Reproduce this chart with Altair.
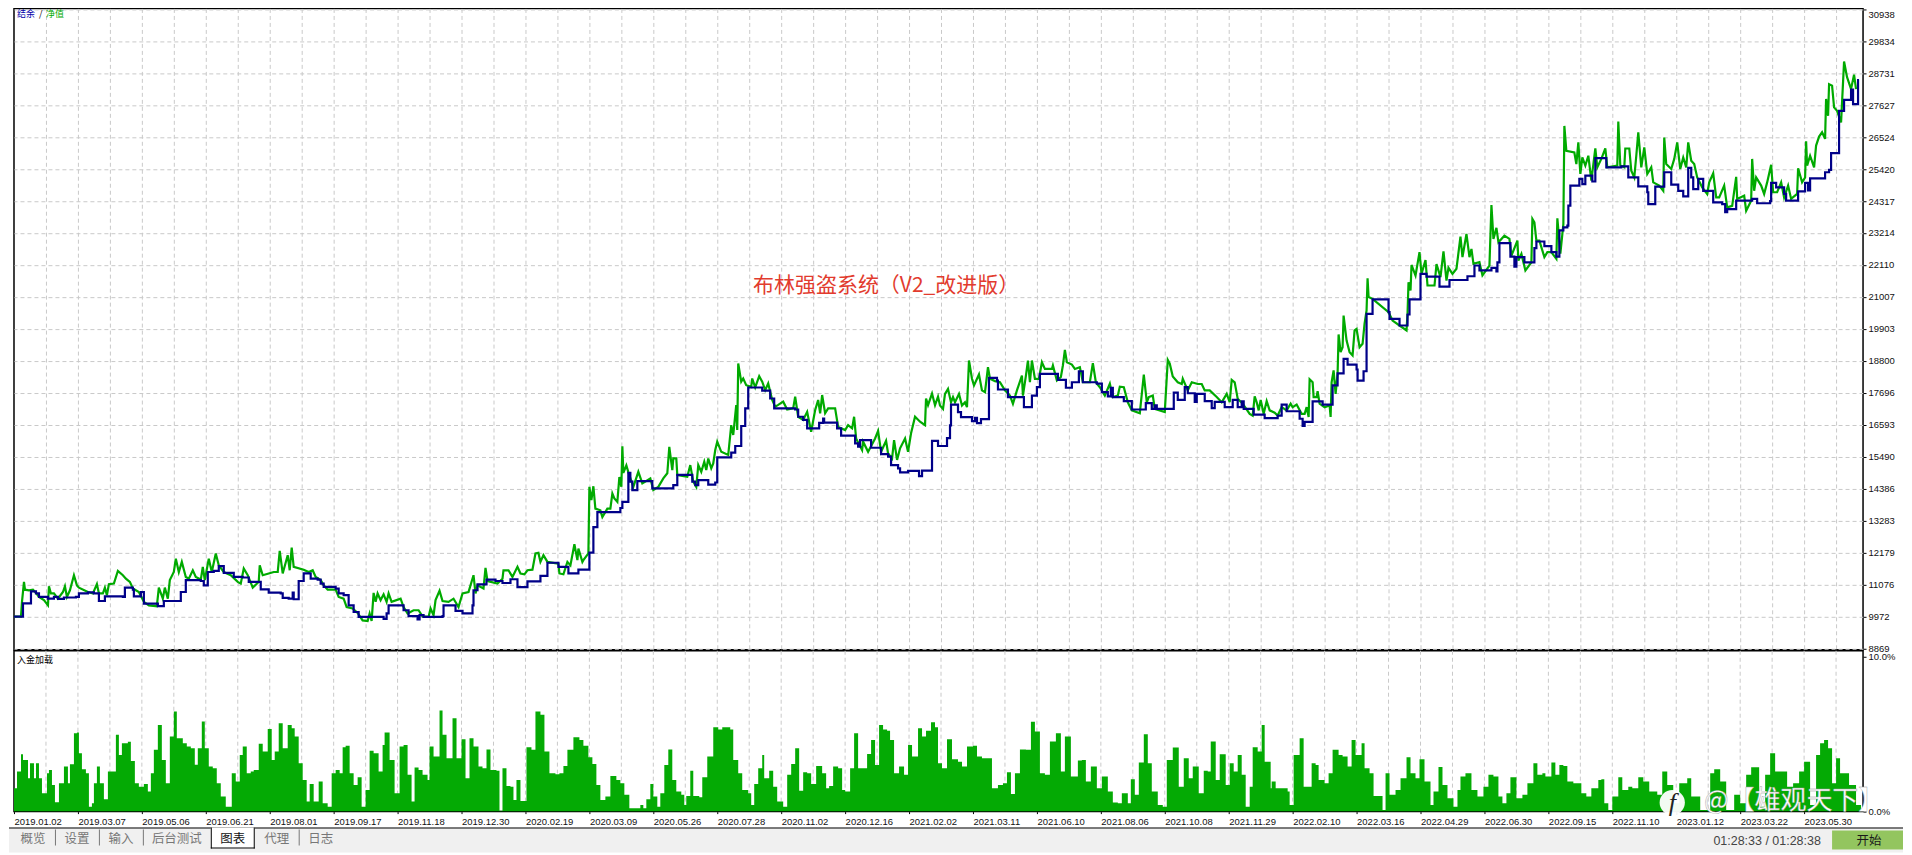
import altair as alt
import pandas as pd

date_labels = ["2019.01.02","2019.03.07","2019.05.06","2019.06.21","2019.08.01","2019.09.17","2019.11.18","2019.12.30",
 "2020.02.19","2020.03.09","2020.05.26","2020.07.28","2020.11.02","2020.12.16","2021.02.02","2021.03.11","2021.06.10",
 "2021.08.06","2021.10.08","2021.11.29","2022.02.10","2022.03.16","2022.04.29","2022.06.30","2022.09.15","2022.11.10",
 "2023.01.12","2023.03.22","2023.05.30"]
balance_ticks = [9972,11076,12179,13283,14386,15490,16593,17696,18800,19903,21007,22110,23214,24317,25420,26524,27627,28731,29834,30938]
bottom_tick = [8869]

balance = [(0,9972),(9,10430),(17,10840),(22,10770),(25,10650),(34,10590),(40,10650),(44,10580),(50,10630),(62,10650),(65,10770),(74,10810),(80,10770),(85,10510),(91,10670),(109,10650),(111,10970),(119,10900),(120,10670),(127,10820),(130,10420),(144,10330),(150,10510),(167,10820),(172,11230),(187,11200),(190,11050),(194,11510),(200,11550),(205,11710),(210,11480),(220,11340),(229,11320),(235,11170),(247,10910),(255,10800),(267,10770),(269,10620),(275,10590),(279,10800),(280,10570),(285,11200),(290,11460),(297,11280),(304,11250),
(307,11110),(310,11000),(322,10940),(325,10770),(330,10710),(335,10360),(340,10130),(345,9960),(370,9890),(373,10080),(375,10360),(390,10190),(395,9990),(404,9870),(406,10020),(410,9960),(429,9990),(430,10360),(442,10170),(449,10080),(459,10360),(460,10880),(464,11080),(473,11250),(482,11200),(489,11130),(497,11260),(504,10990),(514,11190),(527,11380),(534,11830),(545,11690),(555,11460),(565,11590),(576,12180),(580,13060),(584,13580),(607,13720),(609,13930),(615,14930),
(617,14630),(619,14340),(624,14650),(639,14400),(660,14510),(664,14860),(679,14630),(682,14510),(685,14680),(695,14530),(702,14600),(704,15470),(718,15630),(722,15860),(728,16550),(732,17160),(735,17880),(749,17770),(757,17500),(761,17160),(782,17120),(785,16870),(790,16760),(794,16470),(806,16660),(810,16810),(811,16670),(824,16470),(828,16220),(842,15950),(845,15840),(847,16060),(858,15800),(868,15580),(875,15490),(878,15200),(885,15090),(887,14950),(895,15000),(906,14820),(909,15010),(919,16040),(925,15860),
(934,16130),(937,16570),(938,17290),(945,17030),(948,16860),(959,16720),(962,16830),(964,16650),(968,16790),(976,18210),(984,18120),(985,17810),(995,17550),(1011,17200),(1019,17600),(1024,17890),(1027,18350),(1045,18140),(1053,17870),(1059,18060),(1066,18440),(1070,18060),(1084,18010),(1089,17720),(1095,17570),(1098,17870),(1100,17550),(1111,17410),(1119,17120),(1133,17340),(1139,17140),(1142,17260),(1144,17140),(1161,17700),(1165,17450),(1172,17890),(1175,17680),(1182,17380),(1184,17660),(1192,17410),(1199,17170),(1202,17380),(1212,17200),(1220,17450),(1225,17200),(1229,17400),(1231,17140),
(1241,16940),(1252,16820),(1265,16910),(1269,17290),(1274,17060),(1287,16800),(1290,16550),(1292,16690),(1300,17400),(1310,17290),(1320,17950),(1325,18370),(1331,18870),(1335,18670),(1344,18500),(1345,18120),(1351,18440),(1354,20420),(1360,20920),(1376,20480),(1377,20250),(1387,20020),(1395,20400),(1397,20920),(1408,21800),(1414,21710),(1427,21360),(1437,21590),(1455,21720),(1462,22090),(1467,21920),(1479,22010),(1484,21890),(1485,22200),(1487,22860),(1498,22400),(1502,22050),(1504,22380),(1512,22200),(1522,22690),(1524,22920),(1532,22760),(1539,22550),(1544,22400),
(1547,23300),(1551,23410),(1555,23470),(1556,24160),(1558,24850),(1567,25080),(1570,24900),(1573,25190),(1580,24990),(1583,25800),(1594,25480),(1609,25510),(1616,25130),(1626,24820),(1635,24620),(1636,24210),(1643,24810),(1652,25310),(1659,24880),(1666,24670),(1671,24480),(1676,25460),(1679,25130),(1681,24730),(1686,25080),(1691,24670),(1701,24270),(1710,24210),(1713,23930),(1715,24040),(1724,24330),(1740,24390),(1745,24240),(1758,24310),(1759,24940),(1764,24790),(1772,24560),(1774,24330),(1786,24650),(1793,24940),(1796,24680),(1798,25100),(1813,25310),(1817,25390),(1819,25970),(1827,27430),(1832,27810),(1839,28160),(1841,27660),(1846,28490),(1847,28490)]

equity = [(0,9972),(7,9972),(8,10480),(10,11170),(11,10900),(15,10880),(19,10900),(22,10790),(25,10650),(30,10540),(34,10360),(35,11020),(37,10770),(40,10770),(44,10590),(49,10820),(51,11020),(53,10650),(56,10880),(60,11400),(63,11050),(65,10970),(74,10820),(79,10770),(83,11090),(85,10770),(89,10770),(91,10970),(93,10710),(95,11090),(100,11110),(104,11550),(109,11400),(112,11280),(116,11170),(119,10940),(125,10820),(130,10480),(135,10360),(143,10330),(145,10970),(149,10590),(151,10970),(154,10590),(156,11230),(160,11510),(162,11970),(165,11510),(168,11860),(172,11340),(175,11280),(179,11570),(182,11340),(187,11250),(189,11690),(191,11230),(195,11970),(198,11510),(202,12150),(205,11740),(210,11510),(217,11400),(224,11170),(227,11110),(230,11630),(234,11400),(239,10970),(245,11170),(246,11740),(249,11400),(255,11460),(260,11510),(264,11510),(266,12240),(269,11460),(274,12090),(276,11570),(278,12350),(280,11690),(290,11590),(295,11510),(299,11570),(302,11340),
(307,11230),(310,11050),(314,10900),(322,10900),(325,10650),(330,10590),(333,10300),(339,10250),(344,10100),(349,9840),(354,9820),(356,10080),(358,9820),(360,10790),(362,10480),(364,10770),(367,10540),(370,10740),(373,10480),(375,10770),(378,10480),(387,10590),(390,10300),(394,10080),(400,10190),(405,10190),(409,9980),(415,9960),(417,10250),(420,10020),(422,10540),(426,10860),(429,10510),(435,10480),(440,10590),(445,10300),(449,10770),(455,10820),(460,11400),(462,10770),(464,11050),(470,10940),(472,11650),(474,11200),(484,11110),(489,11280),(490,11570),(495,11570),(499,11340),(504,11690),(507,11460),(511,11430),(514,11570),(519,11590),(522,12150),(525,12170),(527,11860),(530,12090),(534,11860),(545,11800),(546,11460),(550,11430),(554,11860),(557,11740),(561,12470),(564,11920),(565,12320),(569,11860),(570,11920),(575,12150),(576,14450),(578,13990),(580,14470),(582,13700),(587,13640),(589,13410),(594,13700),(597,13700),(599,14220),(601,14050),(604,13930),(606,14790),(608,14450),(609,15850),(610,14930),(613,15190),(615,14960),
(620,14450),(625,14970),(629,14570),(637,14740),(640,14340),(645,14450),(650,14740),(654,14920),(656,15830),(659,15030),(660,15430),(663,15430),(664,14860),(674,14800),(677,15200),(680,14630),(683,14450),(685,15200),(688,14970),(691,15320),(693,15030),(695,15430),(698,15090),(700,15260),(702,15720),(704,16010),(708,15660),(715,15550),(718,16580),(720,16240),(723,17270),(724,16410),(725,18710),(728,18080),(730,18190),(733,17960),(738,17900),(739,18190),(742,17880),(746,18270),(749,18080),(752,17790),(755,18020),(759,17450),(762,17220),(765,17280),(770,17390),(774,17120),(780,17160),(782,17560),(785,16870),(790,16760),(794,17040),(798,16350),(802,17100),(805,17450),(807,16990),(809,17620),(812,16990),(815,17160),(822,17160),(825,16520),(832,16410),(835,16580),(839,16470),(841,16870),(843,16120),(849,15720),(850,16010),(855,15660),(862,16120),(865,16380),(868,15660),(873,16040),(875,15600),(879,15430),(881,16060),(884,15380),(887,15780),(892,16120),(895,15660),(898,16300),(902,16870),(907,16700),(912,16580),(913,17500),(915,17270),(919,17670),(922,17270),(925,17560),
(927,17260),(930,17140),(932,17660),(935,17830),(938,17370),(940,17550),(942,17370),(946,17660),(949,17260),(952,17370),(954,17200),(956,18810),(959,18180),(961,17950),(966,18330),(969,17780),(972,17720),(974,18290),(975,18580),(977,18180),(982,18100),(987,18060),(992,17780),(997,17600),(1000,17320),(1004,17780),(1009,18290),(1010,17600),(1013,18290),(1015,18810),(1017,18060),(1019,18810),(1022,18180),(1026,18180),(1029,18750),(1032,18520),(1039,18520),(1040,18640),(1044,18120),(1048,18240),(1050,18640),(1052,19180),(1054,18750),(1059,18670),(1062,18520),(1067,18580),(1070,18060),(1077,18060),(1080,18720),(1083,18060),(1087,17890),(1092,17600),(1097,18010),(1100,17550),(1105,17600),(1107,17910),(1111,17890),(1115,17370),(1119,17090),(1127,16990),(1131,18320),(1134,17370),(1136,17550),(1140,17600),(1142,17140),(1152,17030),(1155,18830),(1157,18700),(1160,18260),(1165,18060),(1169,18000),(1170,18180),(1175,17780),(1179,18060),(1185,18000),(1189,18000),(1192,17780),(1197,17780),(1204,17550),(1209,17370),(1214,17660),(1217,17370),(1219,18140),(1222,18060),(1225,17490),(1230,17320),
(1237,16970),(1240,16910),(1242,17570),(1244,17370),(1246,17090),(1248,17450),(1251,16970),(1254,17410),(1257,17090),(1262,17010),(1265,16910),(1269,17200),(1274,17090),(1278,17320),(1280,17200),(1284,17290),(1289,16970),(1292,16970),(1294,17200),(1296,16860),(1297,18160),(1300,18060),(1301,17550),(1304,17550),(1305,17750),(1307,17320),(1312,17200),(1317,17260),(1318,16860),(1319,18060),(1321,18470),(1323,17660),(1325,18370),(1326,19710),(1328,19100),(1330,19270),(1331,20360),(1334,19500),(1337,19100),(1340,18990),(1342,19850),(1344,19900),(1347,19270),(1350,19390),(1352,20080),(1354,20540),(1355,21650),(1356,21000),(1360,20940),(1376,20480),(1380,20190),(1387,20020),(1394,19850),(1395,20420),(1396,21510),(1398,21230),(1399,22110),(1403,21745),(1407,22550),(1409,21800),(1413,22280),(1415,21400),(1422,21400),(1424,22140),(1428,21690),(1431,22580),(1434,21570),(1436,22010),(1440,21800),(1444,21980),(1448,23090),(1450,22380),(1454,23180),(1457,22380),(1459,22660),(1461,22150),(1467,22210),(1470,21750),(1477,22090),(1479,24180),(1481,23010),(1484,23390),(1486,22890),(1492,23120),(1497,23010),(1499,22430),(1505,22950),(1506,22260),(1509,22490),(1513,21920),(1519,22200),(1520,23700),(1522,23580),(1524,22950),(1527,22950),(1532,22380),(1535,22550),(1539,22550),(1544,22320),(1545,23720),(1548,22500),
(1551,23520),(1552,26910),(1554,26050),(1562,25990),(1564,25590),(1566,26340),(1568,25250),(1570,25820),(1573,25540),(1576,25880),(1579,25020),(1583,26130),(1585,25480),(1589,25770),(1593,26130),(1595,25480),(1605,25540),(1606,27060),(1608,25540),(1612,25480),(1613,26130),(1617,26130),(1619,25360),(1622,25130),(1624,25880),(1626,26690),(1629,25480),(1632,26170),(1635,25250),(1639,25480),(1641,24960),(1647,24850),(1651,24670),(1652,26510),(1654,25590),(1659,25420),(1662,25770),(1665,26340),(1668,25420),(1671,25820),(1674,25480),(1676,26340),(1679,25710),(1682,25590),(1685,25130),(1690,24790),(1695,24560),(1697,24960),(1701,25270),(1704,24440),(1707,24440),(1712,24850),(1715,24100),(1720,24150),(1724,25150),(1725,24390),(1732,24500),(1734,23980),(1739,24330),(1740,25770),(1742,24670),(1744,25130),(1749,24850),(1752,24560),(1755,24960),(1759,25570),(1761,24620),(1765,24620),(1769,24960),(1772,24440),(1776,24850),(1779,24390),(1785,24560),(1786,25450),(1790,24960),(1793,25130),(1794,26380),(1795,25540),(1798,25880),(1802,25480),(1804,26230),(1807,26540),(1810,26690),(1813,26460),(1814,27840),(1816,27260),(1817,28350),(1820,28300),(1822,27550),(1825,27430),(1829,27030),(1832,29130),(1835,28590),(1839,28180),(1842,28680),(1844,28180)]

deposit_load = [(0,1.50),(3,2.58),(7,3.70),(9,3.33),(14,2.15),(16,3.12),(20,2.15),(22,3.12),(25,2.15),(28,1.18),(30,1.18),(33,2.47),(35,2.69),(38,1.72),(41,0.60),(45,1.83),(50,2.90),(54,1.83),(56,3.05),(60,5.05),(63,5.10),(65,3.76),(68,2.73),(72,2.47),(75,0.32),(78,0.54),(80,1.83),(83,2.90),(86,1.83),(90,0.80),(94,2.58),(98,2.58),(102,4.95),(105,3.65),(108,4.41),(114,4.51),(117,3.27),(121,1.83),(125,1.61),(130,1.78),(134,1.29),(137,2.47),(140,3.98),(144,5.59),(148,3.33),(152,1.83),(156,4.84),(160,6.45),(163,4.73),(169,4.41),(173,4.19),(177,4.09),(181,3.02),(184,4.09),(188,5.81),(191,4.09),(195,2.90),(199,2.80),(203,1.83),(207,0.97),(212,0.32),(218,2.47),(222,1.94),(226,3.65),(229,4.19),(233,2.47),(237,2.58),(240,2.69),(245,4.37),(249,3.87),(254,5.33),(258,3.33),(261,3.87),(265,5.70),(269,4.09),(274,5.59),(278,5.37),(281,4.84),(285,3.12),(289,2.04),(293,0.65),(296,1.78),(300,0.65),(305,1.94),(309,0.54),(314,0.32),(318,2.47),(322,2.69),(326,2.47),(329,4.15),(332,4.24),(336,2.47),(340,1.72),(344,2.22),(348,0.32),(352,1.40),(356,3.93),(360,3.76),(365,2.58),(369,4.30),(371,5.10),(376,3.33),(381,1.18),(386,4.19),(390,4.30),(394,2.37),(398,0.65),(401,2.84),(405,2.69),(409,2.37),(414,2.04),(416,4.19),(420,3.55),(426,6.52),(429,4.95),(433,3.44),(436,3.44),(439,6.02),(443,3.44),(448,4.67),(452,2.15),(456,4.73),(460,4.19),(465,2.90),(469,2.80),(473,4.01),(477,2.69),(483,2.64),(486,0.06),(489,2.80),(493,1.65),(497,1.61),(500,0.75),(503,2.04),(507,0.69),(513,4.15),(518,3.98),(522,6.45),(527,6.24),(531,3.87),(536,2.47),(542,2.41),(546,2.47),(550,2.94),(554,3.98),(560,4.80),(566,4.62),(570,4.24),(575,3.50),(579,3.07),(583,1.72),(587,0.75),(592,0.97),(597,2.30),(603,2.04),(607,1.83),(611,1.08),(616,0.22),(622,0.22),
(627,.43),(630,.22),(633,.80),(637,1.78),(640,.97),(644,.32),(647,1.18),(651,3.00),(655,4.01),(659,2.04),(663,1.29),(668,1.08),(671,.43),(673,1.01),(677,2.64),(680,1.01),(686,.92),(689,2.22),(694,3.55),(700,5.44),(705,5.30),(709,5.44),(713,5.44),(717,5.30),(720,3.33),(725,2.47),(729,1.40),(735,1.18),(738,.43),(741,1.78),(745,2.80),(749,3.65),(751,2.15),(756,2.64),(760,1.61),(764,.65),(770,.32),(774,2.37),(778,3.07),(782,4.09),(786,1.35),(790,2.54),(794,2.47),(798,1.78),(803,2.94),(809,2.47),(813,1.50),(816,1.65),(820,2.90),(825,2.80),(829,1.40),(832,1.29),(837,2.80),(841,5.05),(845,2.80),(849,2.80),(854,3.72),(858,4.62),(862,3.01),(866,5.59),(870,5.30),(874,5.22),(877,4.62),(881,2.47),(886,2.90),(891,2.37),(895,4.30),(899,3.55),(905,5.37),(909,4.84),(913,5.22),(918,5.76),(922,5.44),(925,3.12),(929,2.80),(934,4.66),(939,3.37),(945,3.22),(949,2.90),(954,4.19),(960,4.24),(964,3.55),(969,3.44),(975,3.44),(979,1.50),(985,1.72),(990,1.83),(994,2.54),(998,1.14),(1002,2.47),(1007,4.01),(1013,3.98),(1018,5.80),(1022,5.16),(1027,2.47),(1032,2.37),(1037,4.52),(1043,5.05),(1048,2.58),(1052,4.84),(1058,2.26),(1065,3.29),(1069,3.33),(1073,1.94),(1078,2.90),(1084,1.50),(1089,2.26),(1095,1.29),(1100,.58),(1105,.54),(1109,1.18),(1115,.54),(1118,2.09),(1122,1.08),(1126,3.16),(1131,4.99),(1135,3.12),(1139,1.29),(1145,.43),(1150,.32),(1154,3.33),(1160,4.13),(1166,1.61),(1171,3.44),(1176,2.15),(1180,2.90),(1186,1.18),(1191,2.64),(1195,2.58),(1198,4.52),(1203,2.04),(1207,3.70),(1213,1.72),(1217,3.12),(1221,2.58),(1225,3.65),(1229,2.37),(1233,.32),(1237,1.61),(1240,4.15),(1245,3.87),(1249,5.59),(1252,3.22),(1258,1.50),
(1259,1.94),(1263,1.50),(1269,1.50),(1275,1.29),(1277,.43),(1281,3.65),(1287,4.73),(1291,1.61),(1295,1.61),(1299,3.12),(1303,3.01),(1306,2.04),(1312,1.83),(1316,2.47),(1320,3.98),(1326,3.65),(1330,3.55),(1335,2.90),(1339,4.62),(1343,3.65),(1349,4.41),(1352,2.80),(1357,2.47),(1361,1.01),(1367,1.01),(1370,.11),(1373,2.47),(1377,1.08),(1383,1.40),(1388,2.15),(1394,3.50),(1398,2.47),(1403,2.15),(1407,3.37),(1412,1.94),(1418,.43),(1421,1.29),(1426,2.87),(1430,1.72),(1435,.86),(1441,.32),(1445,1.40),(1448,2.26),(1453,2.47),(1459,1.40),(1465,.97),(1471,1.61),(1476,2.37),(1481,2.26),(1486,.97),(1490,.54),(1494,1.18),(1498,2.22),(1504,.86),(1510,1.08),(1515,1.83),(1521,3.12),(1525,2.37),(1530,2.47),(1533,2.26),(1539,3.16),(1543,2.37),(1547,3.01),(1551,2.94),(1555,1.94),(1561,1.83),(1565,1.83),(1569,1.18),(1574,.97),(1579,1.50),(1586,2.04),(1589,2.09),(1592,.54),(1596,.11),(1600,.97),(1606,2.22),(1610,1.40),(1616,1.61),(1620,1.50),(1626,2.22),(1631,1.94),(1637,1.29),(1645,1.08),(1650,2.58),(1655,1.72),(1661,.54),(1667,1.83),(1675,2.15),(1679,.97),(1688,.11),(1698,2.47),(1702,2.73),(1708,1.94),(1714,.11),(1722,1.08),(1728,.54),(1734,2.37),(1739,2.86),(1747,.32),(1753,2.37),(1758,3.76),(1763,2.58),(1769,2.58),(1775,1.61),(1781,1.83),(1787,2.58),(1792,3.22),(1798,.43),(1804,3.65),(1808,4.41),(1812,4.62),(1816,4.09),(1820,1.83),(1824,3.44),(1828,2.47),(1837,1.72),(1844,.43),(1849,0)]

grid_bars = [32*k for k in range(1, 58)]
even_bars = [64*k for k in range(len(date_labels))]
tabs = [("概览",19),("设置",63),("输入",107),("后台测试",163),("代理",263),("日志",307)]
separators = [41,85,129,285]

FONT = "Liberation Sans"
CJK = "Noto Sans CJK SC"
GRID = "#c9c9c9"
GREEN = "#00aa00"
BLUE = "#000088"
W, H1, H2 = 1851, 642, 161
x_scale = alt.Scale(domain=[0, W], nice=False, zero=False)

def frame(pairs, y):
    return pd.DataFrame(pairs, columns=["bar", y])

def label(s, px, py, color="black", size=9, font=CJK, **kw):
    return alt.Chart(pd.DataFrame({"t": [s]})).mark_text(color=color, fontSize=size, font=font, **kw).encode(
        text="t:N", x=alt.value(px), y=alt.value(py))

def box(a, b, c, d, color):
    return alt.Chart(pd.DataFrame({"t": [0]})).mark_rect(color=color).encode(
        x=alt.value(a), x2=alt.value(b), y=alt.value(c), y2=alt.value(d))

y_main = alt.Scale(domain=[8826, 30964], nice=False, zero=False)
main_x_axis = alt.Axis(values=grid_bars, grid=True, gridColor=GRID, gridDash=[4, 3], gridWidth=1,
                       labels=False, ticks=False, domain=False)
main_y_axis = alt.Axis(orient="right", values=bottom_tick + balance_ticks, grid=True, gridColor=GRID,
                       gridDash=[4, 3], gridWidth=1, labelFont=FONT, labelFontSize=9.5, labelColor="#111",
                       tickColor="black", tickSize=3, labelPadding=2, domain=False, labelFlush=False, labelOverlap=False, format="d",
                       labelBaseline={"condition": {"test": "datum.value == 30938", "value": "top"}, "value": "middle"})
main_line = alt.Chart(frame(equity, "v")).mark_line(color=GREEN, strokeWidth=2.2, clip=True).encode(
    x=alt.X("bar:Q", scale=x_scale, title=None, axis=main_x_axis),
    y=alt.Y("v:Q", scale=y_main, title=None, axis=main_y_axis))
main_bal = alt.Chart(frame(balance, "v")).mark_line(color=BLUE, strokeWidth=2.2, interpolate="step-after", clip=True).encode(
    x=alt.X("bar:Q", scale=x_scale, title=None, axis=main_x_axis),
    y=alt.Y("v:Q", scale=y_main, title=None, axis=main_y_axis))
main = alt.layer(
    main_line, main_bal,
    label("布林强盗系统（V2_改进版）", 1013 - 13 - 127, 278, color="#e23b2e", size=21),
    label("结余", 3, 6, color="#0000aa", align="left"),
    label("/", 25, 6, color="#000000", align="left"),
    label("净值", 32, 6, color="#00aa00", align="left"),
).properties(width=W, height=H1)

y_low = alt.Scale(domain=[0, 10.37], nice=False, zero=True)
low_x_axis = alt.Axis(values=even_bars, labelExpr="%s[round(datum.value/64)]" % str(date_labels),
                      labelFont=FONT, labelFontSize=9.5, labelColor="#111", labelAlign="left", labelPadding=3,
                      labelOverlap=False, labelBound=False, labelFlush=False, tickColor="black", tickSize=2,
                      domain=False, grid=False)
grid_low = alt.Chart(pd.DataFrame({"bar": grid_bars})).mark_rule(color=GRID, strokeDash=[4, 3], strokeWidth=1).encode(
    x=alt.X("bar:Q", scale=x_scale, title=None, axis=low_x_axis))
area_low = alt.Chart(frame(deposit_load, "p")).mark_area(color="#04aa04", interpolate="step-after", clip=True).encode(
    x=alt.X("bar:Q", scale=x_scale, title=None, axis=low_x_axis),
    y=alt.Y("p:Q", scale=y_low, title=None,
            axis=alt.Axis(orient="right", values=[0, 10], labelExpr="datum.value==10?'10.0%':'0.0%'", labelFont=FONT,
                          labelFontSize=9.5, labelColor="#111", tickColor="black", tickSize=3, labelPadding=2,
                          domain=False, grid=False)))

layers = [grid_low, area_low, label("入金加载", 3, 9, align="left")]
# status bar
layers += [box(-5, 1891, 177, 202, "#f0f0f0"), box(-5, 1891, 177, 178, "#000000")]
layers += [box(197, 241, 177, 198, "#ffffff"), box(197, 198, 177, 198, "#000000"),
           box(240, 241, 177, 198, "#000000"), box(197, 241, 197, 198, "#000000"),
           label("图表", 219, 188, size=12.5, color="#111111")]
for s, px in tabs:
    layers.append(label(s, px, 188, size=12.5, color="#777777"))
for px in separators:
    layers.append(box(px, px + 1, 179, 195, "#777777"))
layers += [box(1820, 1891, 180, 199, "#93c55f"), label("开始", 1857, 190, size=12.5, color="#1a1a1a"),
           label("01:28:33 / 01:28:38", 1755, 190, size=12.5, font=FONT, color="#444444")]
# watermark
layers += [alt.Chart(pd.DataFrame({"t": [0]})).mark_circle(color="white", opacity=0.95, size=640).encode(
               x=alt.value(1660), y=alt.value(152)),
           label("f", 1660, 152, size=26, font="Liberation Serif", color="#222222", fontStyle="italic"),
           label("@【雄观天下】", 1782, 150, size=26, color="white", stroke="#999999", strokeWidth=0.4)]
low = alt.layer(*layers).properties(width=W, height=H2)

chart = alt.vconcat(main, low, spacing=1, bounds="flush").properties(
    padding={"left": 0, "top": -1, "right": 0, "bottom": 0}
).configure_view(stroke="black", strokeWidth=1.5)
chart.save("out.html", embed_options={"renderer": "svg", "actions": False})
